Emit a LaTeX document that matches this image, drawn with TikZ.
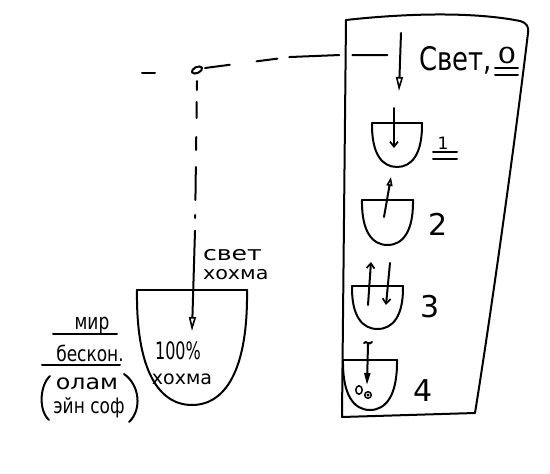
\documentclass[tikz,border=0pt]{standalone}
\usepackage{fontspec}
\setmainfont{DejaVu Sans}
\usetikzlibrary{arrows.meta,shapes.geometric}
\newcommand\fs[1]{\fontsize{#1}{#1}\selectfont}
\newcommand\sbx[3]{\scalebox{#1}[#2]{#3}}
% bowl: x1, x2, ytop, ybottom
\newcommand\drawbowl[4]{%
  \draw[ink] (#1,#3) -- (#2,#3);
  \draw[ink] (#1,#3) .. controls ({#1-0.01*(#2-#1)},{#3+0.7*(#4-#3)}) and ({#1+0.2*(#2-#1)},#4) .. ({(#1+#2)/2},#4)
     .. controls ({#2-0.2*(#2-#1)},#4) and ({#2+0.01*(#2-#1)},{#3+0.7*(#4-#3)}) .. (#2,#3);}
\begin{document}
\begin{tikzpicture}[x=1pt,y=-1pt,
  ink/.style={line width=2pt,line cap=round,line join=round,draw=black},
  lbl/.style={inner sep=0pt,outer sep=0pt,text=black},
  openhead/.style={-{Triangle[open,length=14pt,width=7pt,line width=1.6pt]}},
  solidhead/.style={-{Triangle[length=12pt,width=6pt]}},
  barb/.style={-{Straight Barb[length=5pt,width=8pt,line width=1.7pt]}}]
\useasboundingbox (0,0) rectangle (550,474);
\fill[white] (0,0) rectangle (550,474);

% ---------- right panel ----------
\draw[ink] (346,20) .. controls (400,14) and (470,11) .. (520,21)
  .. controls (527,23) and (529,27) .. (528,33)
  .. controls (514,150) and (490,320) .. (475,413)
  -- (342,417) -- cycle;

% ---------- source dot and dashed connectors ----------
\coordinate (lt0) at (142,73);
\coordinate (lt1) at (155,73);
\draw[ink] (lt0) -- (lt1);
\node[ink,draw,ellipse,minimum width=11pt,minimum height=6pt,inner sep=0pt,rotate=25] (dot) at (197,70) {};
\coordinate (h0) at (205,68);
\coordinate (h1) at (290,57);
\coordinate (h2) at (340,55);
\coordinate (h3) at (388,55);
\draw[ink,dash pattern=on 25pt off 27pt on 21pt off 12pt on 50pt off 13pt on 35pt off 60pt]
  (h0) -- (h1) -- (h2) -- (h3);
\coordinate (v0) at (197,81);
\coordinate (v1) at (195,231);
\coordinate (v2) at (192,331);
\draw[ink,dash pattern=on 9pt off 12pt on 16pt off 19pt on 13pt off 17pt on 33pt off 15pt on 3pt off 13pt]
  (v0) -- (v1);
\draw[ink,openhead] (v1) -- (v2);

% ---------- top light arrow ----------
\coordinate (a0t) at (401,33);
\coordinate (a0b) at (399,91);
\draw[ink,openhead] (a0t) -- (a0b);
\node[lbl,anchor=base west,font=\fs{24}] (svet) at (419,70) {\sbx{1.08}{1.35}{Свет,}};
\node[lbl,font=\fs{21}] (zero) at (507,55) {\sbx{1.4}{1.05}{0}};
\draw[ink] (495,68) -- (518,68) (495,75) -- (518,75);

% ---------- bowl 1 ----------
\drawbowl{372}{422}{123}{167}
\coordinate (b1t) at (394,108);
\coordinate (b1b) at (394,148);
\draw[ink,barb] (b1t) -- (b1b);
\node[lbl,font=\fs{17}] (n1) at (443,143) {1};
\draw[ink] (433,152) -- (457,152) (433,159) -- (457,159);

% ---------- bowl 2 ----------
\drawbowl{362}{413}{200}{245}
\coordinate (b2b) at (384,217);
\coordinate (b2t) at (391,177);
\draw[ink,-{Triangle[open,length=9pt,width=6pt,line width=1.6pt]}] (b2b) -- (b2t);
\node[lbl,font=\fs{30}] (n2) at (438,224) {2};

% ---------- bowl 3 ----------
\drawbowl{352}{403}{286}{329}
\coordinate (b3ub) at (368,305);
\coordinate (b3ut) at (371,262);
\coordinate (b3dt) at (390,263);
\coordinate (b3db) at (386,305);
\draw[ink,barb] (b3ub) -- (b3ut);
\draw[ink,barb] (b3dt) -- (b3db);
\node[lbl,font=\fs{30}] (n3) at (430,307) {3};

% ---------- bowl 4 ----------
\drawbowl{343}{397}{360}{410}
\coordinate (b4t) at (368,344);
\coordinate (b4b) at (367,385);
\draw[ink] (364,343) .. controls (366,340) and (369,346) .. (372,342);
\draw[ink,solidhead] (b4t) -- (b4b);
\draw[ink,line width=1.5pt] (359,390) ellipse [x radius=3.2pt, y radius=4.2pt];
\draw[ink,line width=1.5pt] (368,395) circle [radius=3.3pt];
\fill (368,395) circle [radius=1.6pt];
\node[lbl,font=\fs{30}] (n4) at (423,391) {4};

% ---------- big bowl (world) ----------
\drawbowl{137}{247}{290}{405}
\node[lbl,anchor=base west,font=\fs{18}] (sv1) at (203,260) {\sbx{1.4}{1.1}{свет}};
\node[lbl,anchor=base west,font=\fs{18}] (sv2) at (203,279) {\sbx{1.15}{1}{хохма}};
\node[lbl,font=\fs{20}] (pct) at (178,351) {\sbx{0.8}{1.2}{100\%}};
\node[lbl,anchor=base,font=\fs{19}] (hox) at (182,384) {хохма};

% ---------- left labels ----------
\node[lbl,anchor=base,font=\fs{17}] (mir) at (92,329) {\sbx{1}{1.3}{мир}};
\draw[ink] (53,334) -- (117,334);
\node[lbl,anchor=base,font=\fs{17}] (beskon) at (90,361) {\sbx{1}{1.25}{бескон.}};
\draw[ink] (42,365) -- (120,365);
\node[lbl,anchor=base,font=\fs{19}] (olam) at (87,389) {\sbx{1.25}{1.1}{олам}};
\node[lbl,anchor=base,font=\fs{17}] (ein) at (89,413) {\sbx{1}{1.25}{эйн соф}};
\draw[ink] (50,376) .. controls (40,385) and (38,410) .. (49,420);
\draw[ink] (124,374) .. controls (140,385) and (142,410) .. (129,422);
\end{tikzpicture}
\end{document}
